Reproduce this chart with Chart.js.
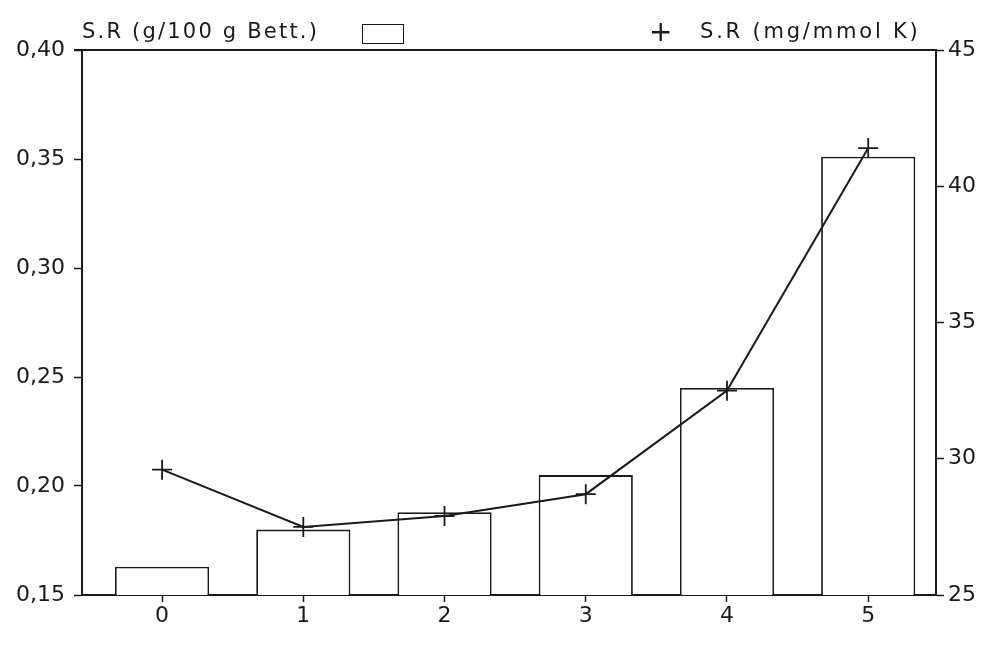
<!DOCTYPE html>
<html><head><meta charset="utf-8">
<script src="https://cdn.jsdelivr.net/npm/chart.js@4"></script>
<style>
html,body{margin:0;padding:0;background:#fff;}
#wrap{position:relative;width:995px;height:652px;}
.lg{position:absolute;font-family:"DejaVu Sans",sans-serif;font-size:21px;letter-spacing:2.2px;color:#1a1a1a;white-space:nowrap;}
.box{position:absolute;border:1.5px solid #1a1a1a;background:#fff;}
</style></head>
<body><div id="wrap"><canvas id="c" width="995" height="652"></canvas>
<div class="lg" style="left:82px;top:19px;">S.R (g/100 g Bett.)</div>
<div class="box" style="left:362px;top:24px;width:40px;height:18px;"></div>
<div class="lg" style="left:649px;top:15px;font-size:28px;letter-spacing:0;">+</div>
<div class="lg" style="left:700px;top:19px;letter-spacing:2.8px;">S.R (mg/mmol K)</div>
</div>
<script>
const categories = [0, 1, 2, 3, 4, 5];
const srBett = [0.163, 0.180, 0.188, 0.205, 0.245, 0.351];
const srMmolK = [29.6, 27.5, 27.9, 28.7, 32.5, 41.4];
const leftTicks = [0.15, 0.20, 0.25, 0.30, 0.35, 0.40];
const rightTicks = [25, 30, 35, 40, 45];

const font = {family: '"DejaVu Sans", sans-serif', size: 22};
const ink = '#1a1a1a';
const frame = {
  id: 'frame',
  afterDatasetsDraw(chart) {
    const a = chart.chartArea, ctx = chart.ctx;
    ctx.save(); ctx.strokeStyle = ink; ctx.lineWidth = 2;
    ctx.beginPath(); ctx.moveTo(a.left - 8, a.top); ctx.lineTo(a.right, a.top); ctx.stroke();
    ctx.restore();
  }
};
const gridOpts = {display: true, drawOnChartArea: false, drawTicks: true, tickLength: 8, color: ink, tickWidth: 1.5, offset: false};
new Chart(document.getElementById('c'), {
  type: 'bar',
  data: {
    datasets: [
      {type: 'line', label: 'S.R (mg/mmol K)', yAxisID: 'y1',
       data: categories.map((c, i) => ({x: c, y: srMmolK[i]})),
       borderColor: ink, borderWidth: 2, pointStyle: 'cross', pointRadius: 10,
       pointBorderWidth: 1.8, pointBorderColor: ink, tension: 0, order: 0},
      {type: 'bar', label: 'S.R (g/100 g Bett.)', yAxisID: 'y',
       data: categories.map((c, i) => ({x: c, y: srBett[i]})),
       backgroundColor: '#fff', borderColor: ink, borderWidth: 1.8,
       barPercentage: 0.667, categoryPercentage: 1, order: 1}
    ]
  },
  options: {
    responsive: false, animation: false,
    layout: {padding: {top: 50, left: 0, right: 0, bottom: 0}},
    plugins: {legend: {display: false}, tooltip: {enabled: false}},
    scales: {
      x: {type: 'linear', min: -0.567, max: 5.48, offset: false,
          afterBuildTicks(s) { s.ticks = categories.map(v => ({value: v})); },
          afterFit(s) { s.height = 57; },
          grid: Object.assign({}, gridOpts, {tickLength: 7}),
          border: {display: true, color: ink, width: 2},
          ticks: {color: ink, font, padding: 1, callback: v => String(v)}},
      y: {position: 'left', min: 0.15, max: 0.40,
          afterBuildTicks(s) { s.ticks = leftTicks.map(v => ({value: v})); },
          afterFit(s) { s.width = 82; },
          grid: gridOpts,
          border: {display: true, color: ink, width: 2},
          ticks: {color: ink, font, padding: 9, callback: v => v.toFixed(2).replace('.', ',')}},
      y1: {position: 'right', min: 25, max: 45,
          afterBuildTicks(s) { s.ticks = rightTicks.map(v => ({value: v})); },
          afterFit(s) { s.width = 59; },
          grid: gridOpts,
          border: {display: true, color: ink, width: 2},
          ticks: {color: ink, font, padding: 4, callback: v => String(v)}}
    }
  },
  plugins: [frame]
});
</script></body></html>
